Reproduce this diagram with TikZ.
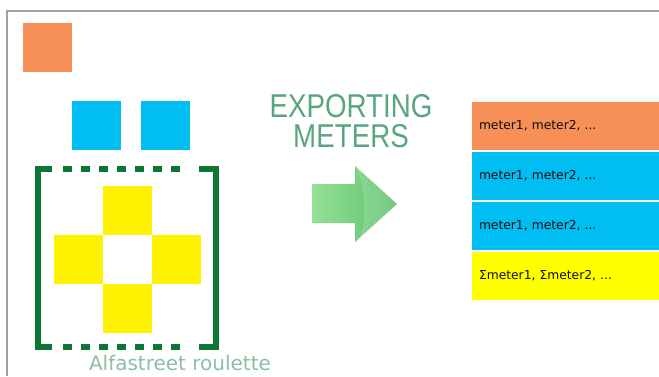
\documentclass[tikz,border=0pt]{standalone}
\usepackage{fontspec}
\setmainfont{DejaVu Sans}
\newfontfamily\titlefont[FakeStretch=0.84]{Liberation Sans}
\usetikzlibrary{positioning}

\definecolor{tileorange}{RGB}{246,143,88}
\definecolor{tileblue}{RGB}{0,190,242}
\definecolor{tileyellow}{RGB}{255,242,0}
\definecolor{rowyellow}{RGB}{255,255,0}
\definecolor{bracketgreen}{RGB}{14,118,52}
\definecolor{titlegreen}{RGB}{88,166,128}
\definecolor{captiongreen}{RGB}{140,190,162}
\definecolor{framegray}{RGB}{160,160,160}
\definecolor{arrowlight}{RGB}{150,224,150}
\definecolor{arrowmid}{RGB}{92,192,108}

\begin{document}
\begin{tikzpicture}[x=1pt, y=-1pt,
    tile/.style={minimum size=49pt, inner sep=0pt, outer sep=0pt},
    meterrow/.style={minimum width=188pt, minimum height=49pt, text width=172pt, inner xsep=8pt, inner ysep=0pt, outer sep=0pt, draw=white, line width=0.6pt, font=\fontsize{12.3}{14}\selectfont, text=black!95, align=left},
    bracket/.style={bracketgreen, line width=6pt}]
            \useasboundingbox (0,0) rectangle (659,376);
            \draw[framegray, line width=2pt] (7,376) -- (7,11) -- (659,11);

            \node[tile, fill=tileorange] (orangetile) at (47.5,47.5) {};
            \node[tile, fill=tileblue] (blueleft) at (96.5,125) {};
            \node[tile, fill=tileblue, right=20pt of blueleft] (blueright) {};

            \node[tile, fill=tileyellow] (crosstop) at (127,210) {};
            \node[tile, fill=tileyellow, below left=0pt of crosstop] (crossleft) {};
            \node[tile, fill=tileyellow, below right=0pt of crosstop] (crossright) {};
            \node[tile, fill=tileyellow, below=49pt of crosstop] (crossbottom) {};

            \draw[bracket] (52,169) -- (38,169) -- (38,347) -- (52,347);
            \draw[bracket] (199,169) -- (216,169) -- (216,347) -- (199,347);
            \draw[bracket, dash pattern=on 9pt off 9pt] (63,169) -- (181,169);
            \draw[bracket, dash pattern=on 9pt off 9pt] (63,347) -- (181,347);
            \node[font=\fontsize{20}{24}\selectfont, text=captiongreen, anchor=base] (caption) at (180,370) {Alfastreet roulette};

            \node[font=\titlefont\fontsize{33}{30}\selectfont, text=titlegreen, align=center] (title) at (351,121) {EXPORTING\\METERS};
            \shade[left color=arrowlight, right color=arrowmid] (312,184) -- (355,184) -- (355,166) -- (397,204) -- (355,242) -- (355,223) -- (312,223) -- cycle;
            \fill[white, opacity=0.15] (355,166) .. controls (366,185) and (368,225) .. (358,241) -- (397,204) -- cycle;

            \node[meterrow, fill=tileorange] (rowa) at (565,125.5) {meter1, meter2, ...};
            \node[meterrow, fill=tileblue, below=1pt of rowa] (rowb) {meter1, meter2, ...};
            \node[meterrow, fill=tileblue, below=1pt of rowb] (rowc) {meter1, meter2, ...};
            \node[meterrow, fill=rowyellow, below=1pt of rowc] (rowd) {Σmeter1, Σmeter2, ...};
        \end{tikzpicture}
\end{document}
